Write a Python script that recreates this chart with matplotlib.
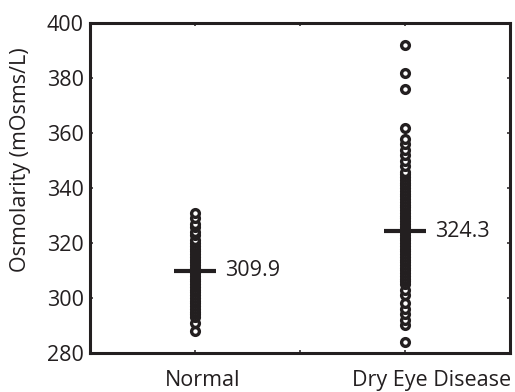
import matplotlib
matplotlib.use('Agg')
import matplotlib.pyplot as plt

plt.rcParams['font.family'] = ['Open Sans', 'DejaVu Sans']

# osmolarity readings (mOsms/L)
normal = [288, 291, 293, 294, 295, 296, 297, 298, 299, 300, 301, 302, 303,
          304, 305, 306, 307, 308, 309, 310, 311, 312, 313, 314, 315, 316,
          317, 318, 319, 320, 321, 323, 324, 326, 327, 329, 331]
dry_eye = [284, 290, 292, 294, 296, 298, 301, 303, 305, 306, 307, 308, 309,
           310, 311, 312, 313, 314, 315, 316, 317, 318, 319, 320, 321, 322,
           323, 324, 325, 326, 327, 328, 329, 330, 331, 332, 333, 334, 335,
           336, 337, 338, 339, 340, 341, 342, 343, 344, 345, 346, 348, 350,
           352, 354, 356, 358, 362, 376, 382, 392]
groups = ['Normal', 'Dry Eye Disease']
group_x = [1, 3]
means = [309.9, 324.3]

ink = '#231f20'

fig = plt.figure(figsize=(5.15, 3.92), dpi=100)
ax = fig.add_axes([0.1748, 0.0995, 0.8155, 0.8418])

for x, vals in zip(group_x, [normal, dry_eye]):
    ax.plot([x] * len(vals), vals, 'o', ms=5.6, mfc='white', mec=ink,
            mew=2.4, ls='none', zorder=3)

for x, m in zip(group_x, means):
    ax.plot(x, m, '+', ms=30, mew=3, color=ink, zorder=4)
    ax.annotate(f'{m:.1f}', (x, m), xytext=(21.5, 0), textcoords='offset points',
                va='center', ha='left', fontsize=15.5, color=ink)

ax.set_xlim(0, 4)
ax.set_ylim(280, 400)
ax.set_yticks(range(280, 401, 20))
ax.set_xticks([1, 2, 3])
ax.set_xticklabels([])
ax.tick_params(direction='in', length=2.5, width=1.1, top=True, right=True,
               labelsize=15.5, labelcolor=ink, color=ink, pad=4.5)
for s in ax.spines.values():
    s.set_linewidth(2.2)
    s.set_color(ink)

# category labels sit below the axis, offset from the ticks as in the original
label_x = [1.076, 3.257]
for x, name in zip(label_x, groups):
    ax.text(x, -0.1, name, transform=ax.get_xaxis_transform(), ha='center',
            va='baseline', fontsize=15.5, color=ink)

fig.text(21 / 515, 0.592, 'Osmolarity (mOsms/L)', rotation=90, ha='center',
         va='center', fontsize=15.5, color=ink)

fig.savefig('out.png', dpi=100)
